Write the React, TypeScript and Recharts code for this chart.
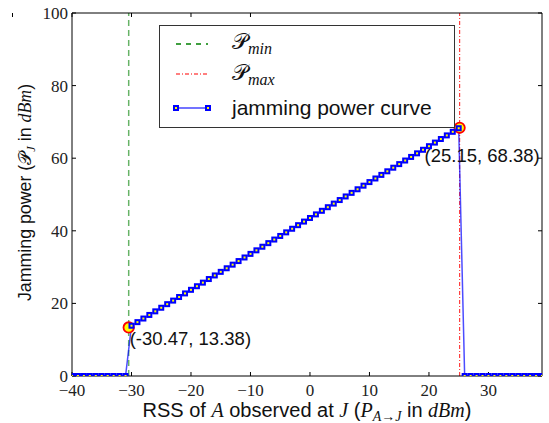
import React from "react";
import {
  ComposedChart,
  Line,
  Scatter,
  XAxis,
  YAxis,
  ReferenceLine,
  Label,
  LabelList,
  Legend,
} from "recharts";

// RSS of A observed at J (dBm)
const rss = [
  -40, -39, -38, -37, -36, -35, -34, -33, -32, -31,
  -30, -29, -28, -27, -26, -25, -24, -23, -22, -21,
  -20, -19, -18, -17, -16, -15, -14, -13, -12, -11,
  -10, -9, -8, -7, -6, -5, -4, -3, -2, -1,
  0, 1, 2, 3, 4, 5, 6, 7, 8, 9,
  10, 11, 12, 13, 14, 15, 16, 17, 18, 19,
  20, 21, 22, 23, 24, 25, 26, 27, 28, 29,
  30, 31, 32, 33, 34, 35, 36, 37, 38, 39,
];

// jamming power (dBm)
const jamming = [
  0, 0, 0, 0, 0, 0, 0, 0, 0, 0,
  13.85, 14.84, 15.83, 16.82, 17.81, 18.8, 19.79, 20.77, 21.76, 22.75,
  23.74, 24.73, 25.72, 26.71, 27.7, 28.69, 29.68, 30.67, 31.66, 32.65,
  33.64, 34.62, 35.61, 36.6, 37.59, 38.58, 39.57, 40.56, 41.55, 42.54,
  43.53, 44.52, 45.51, 46.5, 47.49, 48.47, 49.46, 50.45, 51.44, 52.43,
  53.42, 54.41, 55.4, 56.39, 57.38, 58.37, 59.36, 60.35, 61.34, 62.32,
  63.31, 64.3, 65.29, 66.28, 67.27, 68.26, 0, 0, 0, 0,
  0, 0, 0, 0, 0, 0, 0, 0, 0, 0,
];

const pMin = -30.47;
const pMax = 25.15;
const cornerX = [-30.47, 25.15];
const cornerY = [13.38, 68.38];

const xTicks = [-40, -30, -20, -10, 0, 10, 20, 30];
const yTicks = [0, 20, 40, 60, 80, 100];

const data = rss.map((x, i) => ({ rss: x, power: jamming[i] }));
const corners = cornerX.map((x, i) => ({
  rss: x,
  power: cornerY[i],
  tag: `(${x}, ${cornerY[i]})`,
}));

const serif = "'Liberation Serif', 'DejaVu Serif', serif";
const sans = "'Liberation Sans', Arial, sans-serif";
const tickStyle = { fontFamily: serif, fontSize: 17, fill: "#222" };
const minus = (v: number) => (v < 0 ? `\u2212${-v}` : `${v}`);

const SquareDot = (props: any) => {
  const { cx, cy, index } = props;
  if (cx == null || cy == null) return <g key={`sq-${index}`} />;
  return (
    <rect
      key={`sq-${index}`}
      x={cx - 2}
      y={cy - 2}
      width={4}
      height={4}
      fill="#ffff00"
      stroke="#0000ff"
      strokeWidth={2}
    />
  );
};

const CornerDot = (props: any) => (
  <circle cx={props.cx} cy={props.cy} r={5.2} fill="#ffff00" stroke="#ff0000" strokeWidth={1.8} />
);

// label offsets from the circle centre, one per corner point
const labelDx = [1, -35];
const labelDy = [18, 34.5];

const CornerLabel = (props: any) => {
  const { x, y, width, height, index, value } = props;
  const cx = x + (width || 0) / 2;
  const cy = y + (height || 0) / 2;
  return (
    <text x={cx + labelDx[index]} y={cy + labelDy[index]} fontFamily={sans} fontSize={18.5} fill="#111">
      {value}
    </text>
  );
};

const mathI = { fontFamily: serif, fontStyle: "italic" as const };

const LegendBox = () => {
  const row = (top: number, icon: React.ReactNode, text: React.ReactNode) => (
    <div
      style={{
        position: "absolute",
        left: 0,
        top: top - 15,
        height: 30,
        width: "100%",
        display: "flex",
        alignItems: "center",
      }}
    >
      <svg width={72} height={30} style={{ flex: "none" }}>
        {icon}
      </svg>
      <span style={{ whiteSpace: "nowrap" }}>{text}</span>
    </div>
  );
  return (
    <div
      style={{
        width: 296,
        height: 103,
        boxSizing: "border-box",
        border: "1.3px solid #333",
        background: "#fff",
        position: "relative",
        fontFamily: sans,
        fontSize: 21,
        color: "#111",
      }}
    >
      {row(
        17.7,
        <line x1={16} x2={48} y1={15} y2={15} stroke="#008000" strokeWidth={1.5} strokeDasharray="5 5" />,
        <span style={{ fontFamily: serif, fontSize: 22 }}>
          {"\uD835\uDCAB"}
          <sub style={{ ...mathI, fontSize: 16 }}>min</sub>
        </span>
      )}
      {row(
        48.3,
        <line x1={16} x2={48} y1={15} y2={15} stroke="#ff0000" strokeWidth={1.2} strokeDasharray="4 2 1 2" />,
        <span style={{ fontFamily: serif, fontSize: 22 }}>
          {"\uD835\uDCAB"}
          <sub style={{ ...mathI, fontSize: 16 }}>max</sub>
        </span>
      )}
      {row(
        82.3,
        <g>
          <line x1={16} x2={48} y1={15} y2={15} stroke="#0000ff" strokeOpacity={0.55} strokeWidth={2} />
          <rect x={14} y={13} width={4} height={4} fill="#ffff00" stroke="#0000ff" strokeWidth={2} />
          <rect x={46} y={13} width={4} height={4} fill="#ffff00" stroke="#0000ff" strokeWidth={2} />
        </g>,
        "jamming power curve"
      )}
    </div>
  );
};

const XTitle = (props: any) => {
  const vb = props.viewBox || { x: 72, width: 470, y: 376 };
  return (
    <text x={vb.x + vb.width / 2} y={417} textAnchor="middle" fontFamily={sans} fontSize={20} fill="#111">
      {"RSS of "}
      <tspan {...mathI}>A</tspan>
      {" observed at "}
      <tspan {...mathI}>J</tspan>
      {" ("}
      <tspan {...mathI}>P</tspan>
      <tspan {...mathI} fontSize={14} dy={4}>
        {"A\u2192J"}
      </tspan>
      <tspan dy={-4}>{" in "}</tspan>
      <tspan {...mathI}>dBm</tspan>
      {")"}
    </text>
  );
};

const YTitle = (props: any) => {
  const vb = props.viewBox || { y: 13, height: 363 };
  const cy = vb.y + vb.height / 2 - 2;
  return (
    <text
      x={31}
      y={cy}
      transform={`rotate(-90 31 ${cy})`}
      textAnchor="middle"
      fontFamily={sans}
      fontSize={17.8}
      fill="#111"
    >
      {"Jamming power ("}
      <tspan fontFamily={serif}>{"\uD835\uDCAB"}</tspan>
      <tspan {...mathI} fontSize={12.5} dy={4}>
        J
      </tspan>
      <tspan dy={-4}>{" in "}</tspan>
      <tspan {...mathI}>dBm</tspan>
      {")"}
    </text>
  );
};

export default function App() {
  return (
    <div style={{ position: "absolute", left: 0, top: 0, background: "#fff" }}>
      <ComposedChart width={549} height={423} data={data} margin={{ top: 0, right: 0, bottom: 0, left: 0 }}>
        <XAxis
          dataKey="rss"
          type="number"
          domain={[-40, 39]}
          ticks={xTicks}
          interval={0}
          allowDataOverflow
          height={47}
          tickSize={-4}
          tickMargin={12}
          tickFormatter={minus}
          tick={tickStyle}
          stroke="#000"
          tickLine={{ stroke: "#000" }}
        >
          <Label content={XTitle} />
        </XAxis>
        <XAxis
          xAxisId="top"
          orientation="top"
          type="number"
          domain={[-40, 39]}
          ticks={xTicks}
          interval={0}
          allowDataOverflow
          height={13}
          tickSize={-4}
          tickFormatter={() => ""}
          stroke="#000"
        />
        <YAxis
          type="number"
          domain={[0, 100]}
          ticks={yTicks}
          interval={0}
          allowDataOverflow
          width={72}
          tickSize={-4}
          tickMargin={8}
          tick={tickStyle}
          stroke="#000"
        >
          <Label content={YTitle} />
        </YAxis>
        <YAxis
          yAxisId="right"
          orientation="right"
          type="number"
          domain={[0, 100]}
          ticks={yTicks}
          interval={0}
          allowDataOverflow
          width={7}
          tickSize={-4}
          tickFormatter={() => ""}
          stroke="#000"
        />
        <ReferenceLine x={pMin} stroke="#008000" strokeOpacity={0.6} strokeWidth={1.5} strokeDasharray="6 4" />
        <ReferenceLine x={pMax} stroke="#ff0000" strokeOpacity={0.75} strokeWidth={1.2} strokeDasharray="4 2 1 2" />
        <Line
          type="linear"
          dataKey="power"
          stroke="#0000ff"
          strokeOpacity={0.7}
          strokeWidth={1.5}
          dot={SquareDot}
          activeDot={false}
          isAnimationActive={false}
        />
        <Scatter data={corners} dataKey="power" shape={CornerDot} isAnimationActive={false}>
          <LabelList dataKey="tag" content={CornerLabel} />
        </Scatter>
        <Legend
          content={LegendBox}
          layout="vertical"
          align="center"
          verticalAlign="middle"
          wrapperStyle={{ left: 159, top: 25, width: 296, height: 103 }}
        />
      </ComposedChart>
    </div>
  );
}
